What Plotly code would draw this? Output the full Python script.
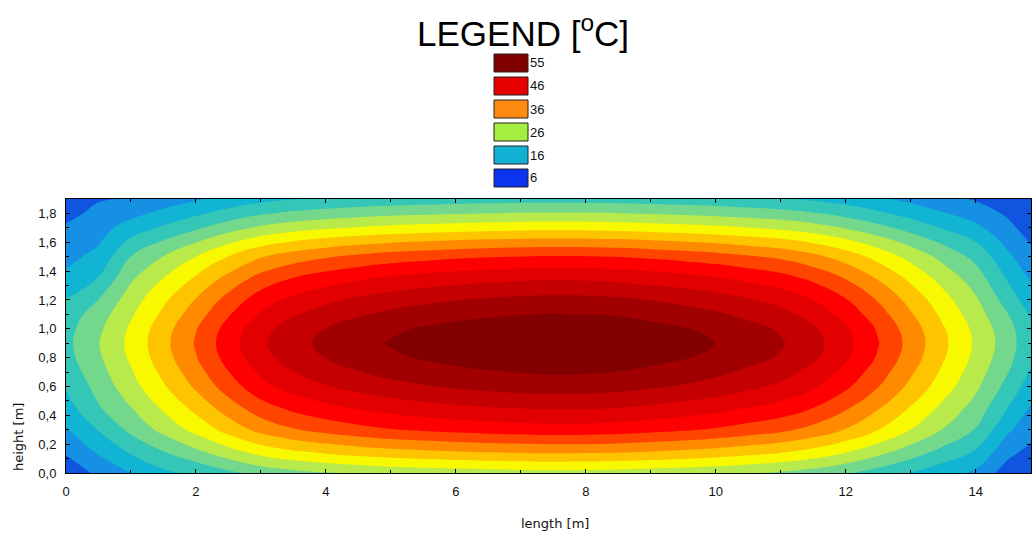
import plotly.graph_objects as go

# ---------------- data ----------------
x_len = [0, 0.5, 1, 1.5, 2, 2.5, 3, 3.5, 4, 4.5, 5, 5.5, 6, 6.5, 7.45, 8.5, 9, 9.5, 10, 10.5,
         11, 11.5, 12, 12.5, 13, 13.5, 14, 14.5, 14.85]
y_height = [0, 0.15, 0.3, 0.45, 0.6, 0.7, 0.8, 0.9, 1.0, 1.1, 1.2, 1.35, 1.5, 1.6, 1.7, 1.8, 1.9]

temp = [
    [5.0, 8.6, 11.3, 14.0, 15.34, 17.51, 19.42, 20.66, 21.51, 22.19, 22.74, 23.12, 23.46, 23.72, 24.01, 23.80, 23.46, 23.08, 22.61, 21.97, 21.29, 20.19, 18.66, 16.75, 14.66, 12.54, 10.50, 6.0, 4.5],
    [8.3, 11.8, 15.33, 18.25, 21.12, 24.10, 26.73, 28.43, 29.60, 30.54, 31.30, 31.82, 32.29, 32.64, 33.05, 32.76, 32.29, 31.77, 31.12, 30.24, 29.31, 27.79, 25.68, 23.05, 20.18, 17.26, 14.45, 8.8, 6.8],
    [11.0, 14.9, 19.13, 22.78, 26.35, 30.08, 33.36, 35.48, 36.94, 38.11, 39.06, 39.71, 40.30, 40.73, 41.25, 40.88, 40.30, 39.64, 38.84, 37.74, 36.57, 34.68, 32.05, 28.76, 25.19, 21.54, 18.03, 11.8, 9.2],
    [13.3, 17.9, 21.62, 25.74, 29.78, 33.99, 37.70, 40.10, 41.75, 43.07, 44.14, 44.88, 45.54, 46.04, 46.61, 46.20, 45.54, 44.80, 43.89, 42.65, 41.33, 39.19, 36.22, 32.51, 28.46, 24.34, 20.38, 14.6, 10.8],
    [15.0, 19.5, 23.84, 28.39, 32.85, 37.49, 41.59, 44.23, 46.05, 47.50, 48.69, 49.50, 50.23, 50.78, 51.42, 50.96, 50.23, 49.41, 48.41, 47.05, 45.59, 43.23, 39.95, 35.85, 31.40, 26.85, 22.48, 17.0, 13.0],
    [16.2, 20.4, 24.89, 29.64, 34.30, 39.14, 43.42, 46.17, 48.07, 49.59, 50.83, 51.68, 52.44, 53.01, 53.68, 53.20, 52.44, 51.59, 50.54, 49.12, 47.60, 45.13, 41.71, 37.43, 32.78, 28.03, 23.47, 18.3, 14.3],
    [17.0, 21.2, 25.81, 30.73, 35.56, 40.58, 45.01, 47.87, 49.84, 51.42, 52.70, 53.58, 54.37, 54.96, 55.65, 55.16, 54.37, 53.49, 52.40, 50.92, 49.35, 46.79, 43.24, 38.81, 33.98, 29.06, 24.33, 19.3, 15.2],
    [17.3, 21.6, 26.2, 31.2, 36.1, 41.2, 45.7, 48.6, 50.6, 52.2, 53.5, 54.4, 55.2, 55.8, 56.5, 56.0, 55.2, 54.3, 53.2, 51.7, 50.1, 47.5, 43.9, 39.4, 34.5, 29.5, 24.7, 19.8, 15.6],
    [17.0, 21.0, 25.81, 30.73, 35.56, 40.58, 45.01, 47.87, 49.84, 51.42, 52.70, 53.58, 54.37, 54.96, 55.65, 55.16, 54.37, 53.49, 52.40, 50.92, 49.35, 46.79, 43.24, 38.81, 33.98, 29.06, 24.33, 19.4, 15.3],
    [16.2, 20.0, 24.76, 29.48, 34.11, 38.93, 43.19, 45.93, 47.82, 49.33, 50.56, 51.41, 52.16, 52.73, 53.39, 52.92, 52.16, 51.31, 50.27, 48.86, 47.34, 44.89, 41.49, 37.23, 32.60, 27.88, 23.34, 18.3, 14.3],
    [14.9, 18.3, 23.58, 28.08, 32.49, 37.08, 41.13, 43.74, 45.54, 46.98, 48.15, 48.96, 49.68, 50.22, 50.85, 50.40, 49.68, 48.87, 47.88, 46.53, 45.09, 42.75, 39.51, 35.46, 31.05, 26.55, 22.23, 16.6, 12.8],
    [12.0, 14.9, 21.22, 25.27, 29.24, 33.37, 37.02, 39.37, 40.99, 42.28, 43.34, 44.06, 44.71, 45.20, 45.77, 45.36, 44.71, 43.98, 43.09, 41.88, 40.58, 38.48, 35.56, 31.91, 27.95, 23.90, 20.01, 14.3, 10.8],
    [10.2, 12.3, 18.34, 21.84, 25.27, 28.84, 31.99, 34.02, 35.42, 36.54, 37.45, 38.08, 38.64, 39.06, 39.55, 39.20, 38.64, 38.01, 37.24, 36.19, 35.07, 33.25, 30.73, 27.58, 24.15, 20.65, 17.29, 11.9, 8.8],
    [9.2, 10.9, 15.72, 18.72, 21.66, 24.72, 27.42, 29.16, 30.36, 31.32, 32.10, 32.64, 33.12, 33.48, 33.90, 33.60, 33.12, 32.58, 31.92, 31.02, 30.06, 28.50, 26.34, 23.64, 20.70, 17.70, 14.82, 10.2, 7.5],
    [8.2, 9.8, 12.84, 15.29, 17.69, 20.19, 22.39, 23.81, 24.79, 25.58, 26.22, 26.66, 27.05, 27.34, 27.69, 27.44, 27.05, 26.61, 26.07, 25.33, 24.55, 23.28, 21.51, 19.31, 16.91, 14.46, 12.10, 8.6, 6.2],
    [6.8, 8.6, 10.22, 12.17, 14.08, 16.07, 17.82, 18.95, 19.73, 20.36, 20.87, 21.22, 21.53, 21.76, 22.04, 21.84, 21.53, 21.18, 20.75, 20.16, 19.54, 18.53, 17.12, 15.37, 13.46, 11.51, 9.63, 7.2, 5.0],
    [5.2, 7.5, 7.86, 9.36, 10.83, 12.36, 13.71, 14.58, 15.18, 15.66, 16.05, 16.32, 16.56, 16.74, 16.95, 16.80, 16.56, 16.29, 15.96, 15.51, 15.03, 14.25, 13.17, 11.82, 10.35, 8.85, 7.41, 5.8, 4.0],
]

level_start = 7.75
level_end = 53.25
level_step = 3.5

band_colors = ["#0f55e0", "#1590e2", "#12b4d4", "#34c6b6", "#74d88c", "#b8ea4c", "#f8f800",
               "#ffc400", "#ff8a00", "#ff4400", "#ff0000", "#e20000", "#c40000", "#a20000", "#820000"]

legend_values = ["55", "46", "36", "26", "16", "6"]
legend_colors = ["#800000", "#e60000", "#ff8a10", "#a4ee40", "#12b0d4", "#0a34f0"]

x_ticks = [0, 2, 4, 6, 8, 10, 12, 14]
y_ticks = [0.0, 0.2, 0.4, 0.6, 0.8, 1.0, 1.2, 1.4, 1.6, 1.8]

# ---------------- figure ----------------
W, H = 1035, 537
L, R, T, B = 66, 4, 199, 64
PW, PH = W - L - R, H - T - B

def px(xp):
    return (xp - L) / PW

def py(yp):
    return (H - B - yp) / PH

n = len(band_colors)
colorscale = [[i / (n - 1), c] for i, c in enumerate(band_colors)]

fig = go.Figure()
fig.add_trace(go.Contour(
    x=x_len, y=y_height, z=temp,
    autocontour=False,
    contours=dict(start=level_start, end=level_end, size=level_step, coloring="fill", showlines=False),
    colorscale=colorscale,
    line=dict(width=0, smoothing=1.3),
    showscale=False,
    hoverinfo="skip",
))

axis_common = dict(
    showline=True, linecolor="black", linewidth=1, mirror="ticks",
    ticks="inside", ticklen=4, tickcolor="black",
    showgrid=False, zeroline=False,
    tickfont=dict(family="Liberation Sans, Arial", size=13, color="#111"),
)

fig.update_xaxes(range=[0, 14.85], tickvals=x_ticks,
                 minor=dict(dtick=1, ticks="inside", ticklen=3, tickcolor="black"),
                 ticklabelstandoff=6, **axis_common)
fig.update_yaxes(range=[0, 1.9], tickvals=y_ticks, tickformat=".1f",
                 minor=dict(dtick=0.1, ticks="inside", ticklen=3, tickcolor="black"),
                 ticklabelstandoff=6, **axis_common)

shapes = []
annotations = []

annotations.append(dict(
    x=px(523), y=py(31), xref="paper", yref="paper",
    text="LEGEND [<sup>o</sup>C]", showarrow=False,
    font=dict(family="Liberation Sans, Arial", size=35, color="black"),
    xanchor="center", yanchor="middle",
))

for k, (val, col) in enumerate(zip(legend_values, legend_colors)):
    top = 54 + k * 23
    shapes.append(dict(type="rect", xref="paper", yref="paper",
                       x0=px(494), x1=px(528), y0=py(top), y1=py(top + 18),
                       fillcolor=col, line=dict(color="#222", width=1)))
    annotations.append(dict(
        x=px(528), y=py(top + 9), xref="paper", yref="paper",
        text=val, showarrow=False, xanchor="left", yanchor="middle",
        font=dict(family="Liberation Sans, Arial", size=13, color="#111"),
    ))

annotations.append(dict(
    x=px(18), y=py(437), xref="paper", yref="paper",
    text="height [m]", showarrow=False, textangle=-90,
    xanchor="center", yanchor="middle",
    font=dict(family="DejaVu Sans", size=13, color="#111"),
))
annotations.append(dict(
    x=px(555), y=py(523), xref="paper", yref="paper",
    text="length [m]", showarrow=False,
    xanchor="center", yanchor="middle",
    font=dict(family="DejaVu Sans", size=13, color="#111"),
))

fig.update_layout(
    width=W, height=H,
    margin=dict(l=L, r=R, t=T, b=B, pad=0),
    paper_bgcolor="white", plot_bgcolor="white",
    separators=", ",
    shapes=shapes, annotations=annotations,
    showlegend=False,
)

fig.write_html(
    "out.html",
    config={"displayModeBar": False},
    post_script="document.body.style.margin='0';document.body.style.padding='0';"
                "document.documentElement.style.overflow='hidden';",
)
